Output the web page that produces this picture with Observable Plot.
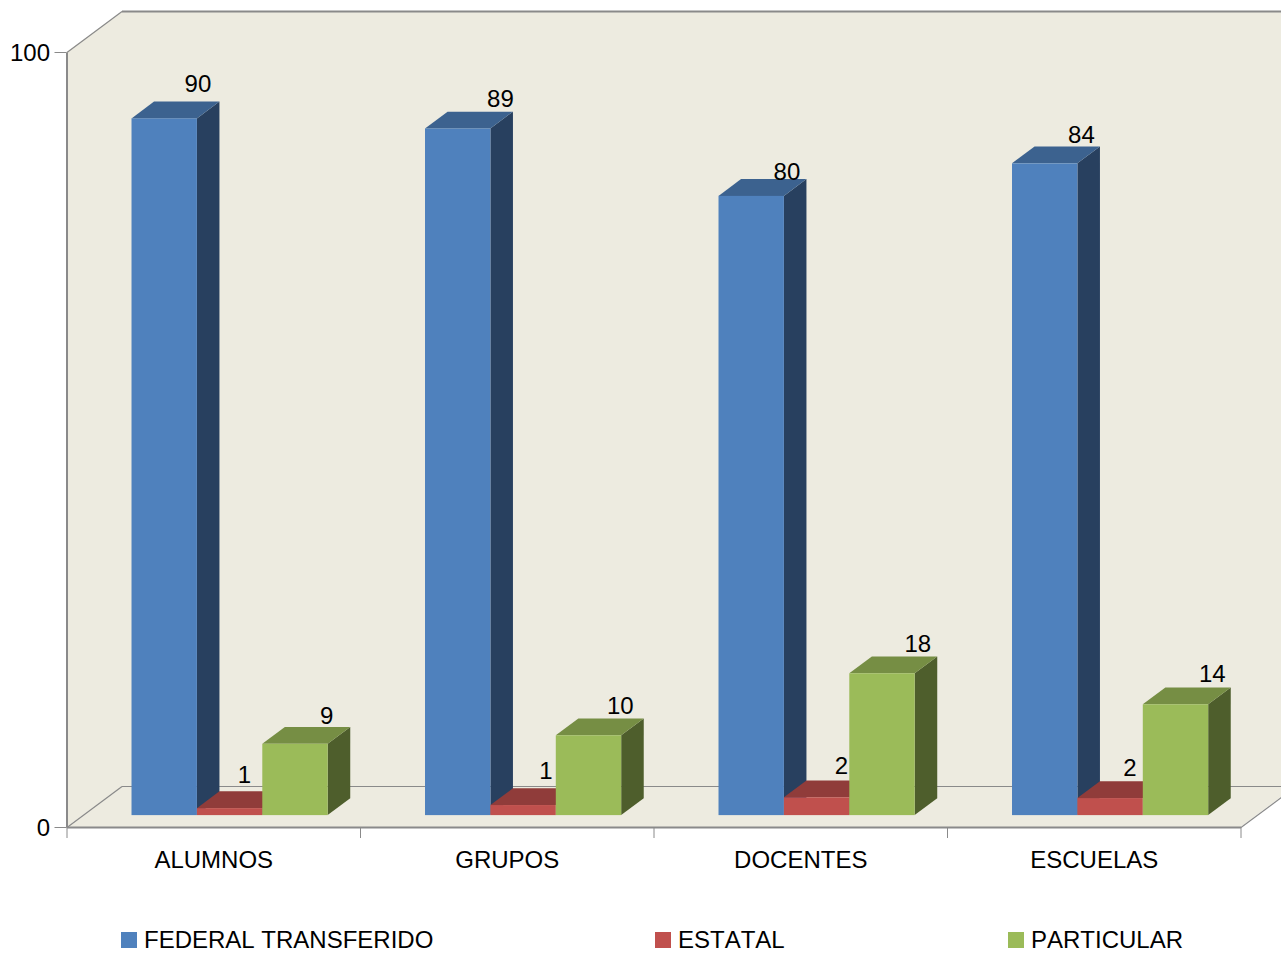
<!DOCTYPE html>
<html>
<head>
<meta charset="utf-8">
<script src="https://cdn.jsdelivr.net/npm/d3@7"></script>
<script src="https://cdn.jsdelivr.net/npm/@observablehq/plot@0.6"></script>
<style>
  html, body { margin: 0; padding: 0; background: #fff; }
  body { width: 1281px; font-family: "Liberation Sans", Arial, sans-serif; color: #000; font-kerning: none; }
  #chart svg { display: block; font-kerning: none; }
  #legend { position: relative; width: 1281px; height: 43px; font-size: 24px; line-height: 30px; overflow: hidden; }
  .item { position: absolute; top: 15px; white-space: nowrap; }
  .swatch { position: absolute; left: 0; top: 7px; width: 16px; height: 16px; }
  .item span.t { position: absolute; left: 23px; top: 0; }
</style>
</head>
<body>
<div id="chart"></div>
<div id="legend"></div>
<script>
const categories = ["ALUMNOS", "GRUPOS", "DOCENTES", "ESCUELAS"];
const federal = [89.9, 88.6, 79.9, 84.1];
const estatal = [0.9, 1.3, 2.3, 2.2];
const particular = [9.2, 10.3, 18.3, 14.3];
const seriesNames = ["FEDERAL TRANSFERIDO", "ESTATAL", "PARTICULAR"];
const yTicks = [0, 100];

const frontColors = ["#4F81BD", "#C0504D", "#9BBB59"];
const topColors = ["#3C628F", "#903C3A", "#768E44"];
const sideColors = ["#28405F", "#763331", "#4E5E2C"];
const wallColor = "#EDEBE0";
const edgeColor = "#8A8A8A";

// Oblique projection, in scale units: one full step into the depth of the box
const depthX = 0.1874, depthY = 5.29;
const barZ0 = 0.29, barZ1 = 0.70;       // depth span occupied by the bars
const groupStart = 0.2215, barWidth = 0.2228;
const n = categories.length;
// Value labels sit near each bar's back corner; the original placed them a little unevenly
const labelOffset = [
  [[-22, -18], [-13, -13], [-20, -7], [-19, -12]],
  [[-41, -17], [-33, -17], [-31, -15], [-36, -13]],
  [[-24, -11], [-24, -13], [-20, -13], [-19, -14]]
];

const quad = (a, b, c, d) => [
  {x1: a[0], y1: a[1], x2: d[0], y2: d[1]},
  {x1: b[0], y1: b[1], x2: c[0], y2: c[1]}
];
const faces = (polys, fill) => Plot.area(
  polys.flatMap((p, i) => p.map(r => ({...r, id: i}))),
  {x1: "x1", y1: "y1", x2: "x2", y2: "y2", z: "id", fill}
);

// walls and floor: the side wall overlaps the back wall by a hair to hide the seam
const overlap = 0.004;
const walls = [
  quad([depthX, depthY], [n + depthX, depthY], [n + depthX, 100 + depthY], [depthX, 100 + depthY]),
  quad([0, 0], [depthX + overlap, depthY], [depthX + overlap, 100 + depthY], [0, 100]),
  quad([0, 0], [n, 0], [n + depthX, depthY], [depthX, depthY])
];
const edges = [
  {x1: depthX, y1: depthY, x2: n + depthX, y2: depthY, w: 1.2},
  {x1: 0, y1: 0, x2: depthX, y2: depthY, w: 1.2},
  {x1: n, y1: 0, x2: n + depthX, y2: depthY, w: 1.2},
  {x1: 0, y1: 100, x2: depthX, y2: 100 + depthY, w: 1.2},
  {x1: depthX, y1: 100 + depthY, x2: n + depthX, y2: 100 + depthY, w: 2},
  {x1: 0, y1: 0, x2: 0, y2: 100, w: 2},
  {x1: 0, y1: 0, x2: n, y2: 0, w: 2}
];

const seriesMarks = [federal, estatal, particular].flatMap((values, s) => {
  const base = barZ0 * depthY;          // the bars stand on the floor, inside the box
  const d = barZ1 - barZ0;
  const bars = values.map((v, i) => {
    const x0 = i + groupStart + s * barWidth;
    return {x0, x1: x0 + barWidth, v, top: base + v};
  });
  const tops = bars.map(b => quad(
    [b.x0, b.top], [b.x1, b.top],
    [b.x1 + d * depthX, b.top + d * depthY], [b.x0 + d * depthX, b.top + d * depthY]
  ));
  const sides = bars.map(b => quad(
    [b.x1, base], [b.x1 + d * depthX, base + d * depthY],
    [b.x1 + d * depthX, b.top + d * depthY], [b.x1, b.top]
  ));
  return [
    faces(sides, sideColors[s]),
    faces(tops, topColors[s]),
    Plot.rect(bars, {x1: "x0", x2: "x1", y1: () => base, y2: "top", fill: frontColors[s], inset: 0}),
    ...bars.map((b, i) => Plot.text([b], {
      x: b => b.x1 + d * depthX,
      y: b => b.top + d * depthY,
      text: b => d3.format(".0f")(b.v),
      dx: labelOffset[s][i][0], dy: labelOffset[s][i][1],
      fontSize: 24, fill: "#000", stroke: "none"
    }))
  ];
});

const chart = Plot.plot({
  width: 1281,
  height: 910,
  marginLeft: 66.5,
  marginRight: 40.5,
  marginTop: 52,
  marginBottom: 83,
  style: {fontFamily: '"Liberation Sans", Arial, sans-serif', fontSize: "24px", color: "#000", background: "#fff", overflow: "hidden"},
  x: {domain: [0, n], axis: null},
  y: {domain: [0, 100], axis: null},
  marks: [
    faces(walls, wallColor),
    Plot.link(edges, {x1: "x1", y1: "y1", x2: "x2", y2: "y2", stroke: edgeColor, strokeWidth: "w"}),
    Plot.axisY({ticks: yTicks, tickSize: 12, tickFormat: () => "", label: null, stroke: edgeColor}),
    Plot.axisY({ticks: yTicks, tickSize: 12, tickPadding: 5, label: null, stroke: "none", fill: "#000", fontSize: 24, dy: 1, tickFormat: d3.format("d")}),
    Plot.axisX({ticks: d3.range(n + 1), tickSize: 11, tickFormat: () => "", label: null, stroke: edgeColor}),
    Plot.axisX({ticks: categories.map((_, i) => i + 0.5), tickSize: 0, tickPadding: 23, label: null, fill: "#000", fontSize: 24, tickFormat: v => categories[Math.floor(v)]}),
    ...seriesMarks
  ]
});
document.getElementById("chart").appendChild(chart);

const legendLeft = [121, 655, 1008];
const legend = document.getElementById("legend");
seriesNames.forEach((name, s) => {
  const item = document.createElement("div");
  item.className = "item";
  item.style.left = legendLeft[s] + "px";
  const sw = document.createElement("div");
  sw.className = "swatch";
  sw.style.background = frontColors[s];
  const t = document.createElement("span");
  t.className = "t";
  t.textContent = name;
  item.append(sw, t);
  legend.appendChild(item);
});
</script>
</body>
</html>
